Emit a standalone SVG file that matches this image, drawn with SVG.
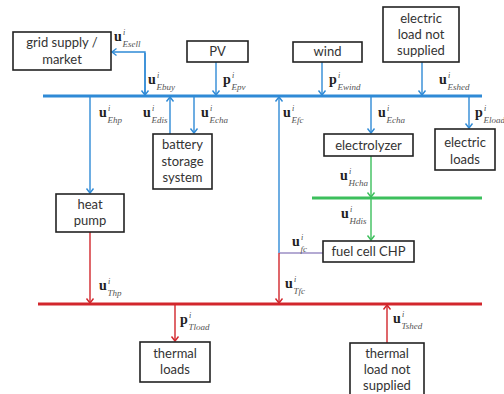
<svg xmlns="http://www.w3.org/2000/svg" width="504" height="394" viewBox="0 0 504 394">
<style>
.box rect{fill:#fff;stroke:#222;stroke-width:1.6}
.box text{font-family:Lato,"Liberation Sans",sans-serif;font-size:13px;fill:#333;text-anchor:middle}
.bus{fill:none;stroke-width:2.8}
.c{fill:none;stroke-width:1.4}
.b{stroke:#2f8ad6}
.r{stroke:#d2262c}
.g{stroke:#3cbf5c}
.p{stroke:#9b8ec4}
.v{font-family:"Liberation Serif",serif;font-weight:bold;font-size:14px;fill:#222}
.sup{font-family:"Liberation Serif",serif;font-style:italic;font-size:8px;fill:#444}
.sub{font-family:"Liberation Serif",serif;font-style:italic;font-size:9px;fill:#555}
</style>
<defs>
<marker id="ab" markerUnits="userSpaceOnUse" markerWidth="10" markerHeight="10" refX="0" refY="0" viewBox="-6 -5 8 10" orient="auto" overflow="visible"><path d="M-4.5,-3.5 L0,0 L-4.5,3.5" fill="none" stroke="#2f8ad6" stroke-width="1.4"/></marker>
<marker id="ar" markerUnits="userSpaceOnUse" markerWidth="10" markerHeight="10" refX="0" refY="0" viewBox="-6 -5 8 10" orient="auto" overflow="visible"><path d="M-4.5,-3.5 L0,0 L-4.5,3.5" fill="none" stroke="#d2262c" stroke-width="1.4"/></marker>
<marker id="ag" markerUnits="userSpaceOnUse" markerWidth="10" markerHeight="10" refX="0" refY="0" viewBox="-6 -5 8 10" orient="auto" overflow="visible"><path d="M-4.5,-3.5 L0,0 L-4.5,3.5" fill="none" stroke="#3cbf5c" stroke-width="1.4"/></marker>
</defs>

<g id="connectors">
<path class="bus b" d="M43,96 H482"/>
<path class="bus r" d="M38,304 H482"/>
<path class="bus g" d="M312,198 H482"/>
<path class="c b" d="M145,95 V52 H112" marker-end="url(#ab)"/>
<path class="c b" d="M145,53 V95" marker-end="url(#ab)"/>
<path class="c b" d="M216,62 V95" marker-end="url(#ab)"/>
<path class="c b" d="M322,62 V95" marker-end="url(#ab)"/>
<path class="c b" d="M422,62 V95" marker-end="url(#ab)"/>
<path class="c b" d="M90,97 V193" marker-end="url(#ab)"/>
<path class="c b" d="M170,134 V97" marker-end="url(#ab)"/>
<path class="c b" d="M194,97 V133" marker-end="url(#ab)"/>
<path class="c b" d="M279,253 V97" marker-end="url(#ab)"/>
<path class="c b" d="M371,97 V133" marker-end="url(#ab)"/>
<path class="c b" d="M469,97 V128" marker-end="url(#ab)"/>
<path class="c g" d="M371,156 V197" marker-end="url(#ag)"/>
<path class="c g" d="M371,199 V240" marker-end="url(#ag)"/>
<path class="c p" d="M279,253 H323"/>
<path class="c r" d="M90,232 V303" marker-end="url(#ar)"/>
<path class="c r" d="M279,253 V303" marker-end="url(#ar)"/>
<path class="c r" d="M175,305 V341" marker-end="url(#ar)"/>
<path class="c r" d="M387,343 V305" marker-end="url(#ar)"/>
</g>

<g id="labels">
<g transform="translate(114,41)"><text class="v">u</text><text class="sup" x="9" y="-6">i</text><text class="sub" x="8.5" y="5.5">Esell</text></g>
<g transform="translate(148,84)"><text class="v">u</text><text class="sup" x="9" y="-6">i</text><text class="sub" x="8.5" y="5.5">Ebuy</text></g>
<g transform="translate(223,84)"><text class="v">p</text><text class="sup" x="9" y="-6">i</text><text class="sub" x="8.5" y="5.5">Epv</text></g>
<g transform="translate(329,84)"><text class="v">p</text><text class="sup" x="9" y="-6">i</text><text class="sub" x="8.5" y="5.5">Ewind</text></g>
<g transform="translate(439,84)"><text class="v">u</text><text class="sup" x="9" y="-6">i</text><text class="sub" x="8.5" y="5.5">Eshed</text></g>
<g transform="translate(99,117)"><text class="v">u</text><text class="sup" x="9" y="-6">i</text><text class="sub" x="8.5" y="5.5">Ehp</text></g>
<g transform="translate(143,117)"><text class="v">u</text><text class="sup" x="9" y="-6">i</text><text class="sub" x="8.5" y="5.5">Edis</text></g>
<g transform="translate(201,117)"><text class="v">u</text><text class="sup" x="9" y="-6">i</text><text class="sub" x="8.5" y="5.5">Echa</text></g>
<g transform="translate(283,117)"><text class="v">u</text><text class="sup" x="9" y="-6">i</text><text class="sub" x="8.5" y="5.5">Efc</text></g>
<g transform="translate(378,117)"><text class="v">u</text><text class="sup" x="9" y="-6">i</text><text class="sub" x="8.5" y="5.5">Echa</text></g>
<g transform="translate(475,117)"><text class="v">p</text><text class="sup" x="9" y="-6">i</text><text class="sub" x="8.5" y="5.5">Eload</text></g>
<g transform="translate(340,180)"><text class="v">u</text><text class="sup" x="9" y="-6">i</text><text class="sub" x="8.5" y="5.5">Hcha</text></g>
<g transform="translate(341,218)"><text class="v">u</text><text class="sup" x="9" y="-6">i</text><text class="sub" x="8.5" y="5.5">Hdis</text></g>
<g transform="translate(292,246)"><text class="v">u</text><text class="sup" x="9" y="-6">i</text><text class="sub" x="8.5" y="5.5">fc</text></g>
<g transform="translate(285,288)"><text class="v">u</text><text class="sup" x="9" y="-6">i</text><text class="sub" x="8.5" y="5.5">Tfc</text></g>
<g transform="translate(99,290)"><text class="v">u</text><text class="sup" x="9" y="-6">i</text><text class="sub" x="8.5" y="5.5">Thp</text></g>
<g transform="translate(180,324)"><text class="v">p</text><text class="sup" x="9" y="-6">i</text><text class="sub" x="8.5" y="5.5">Tload</text></g>
<g transform="translate(393,323)"><text class="v">u</text><text class="sup" x="9" y="-6">i</text><text class="sub" x="8.5" y="5.5">Tshed</text></g>
</g>

<g id="grid" class="box"><rect x="13" y="32" width="98" height="38"/><text x="62" y="47">grid supply /</text><text x="62" y="64">market</text></g>
<g id="pv" class="box"><rect x="187" y="41" width="61" height="21"/><text x="217.5" y="56">PV</text></g>
<g id="wind" class="box"><rect x="293" y="42" width="69" height="20"/><text x="327.5" y="56">wind</text></g>
<g id="eshed" class="box"><rect x="383" y="7" width="76" height="55"/><text x="421" y="23">electric</text><text x="421" y="39">load not</text><text x="421" y="55">supplied</text></g>
<g id="battery" class="box"><rect x="153" y="134" width="59" height="55"/><text x="182.5" y="149">battery</text><text x="182.5" y="165.5">storage</text><text x="182.5" y="182">system</text></g>
<g id="heatpump" class="box"><rect x="56" y="194" width="68" height="38"/><text x="90" y="209">heat</text><text x="90" y="225">pump</text></g>
<g id="electrolyzer" class="box"><rect x="324" y="134" width="89" height="22"/><text x="368.5" y="149.5">electrolyzer</text></g>
<g id="eloads" class="box"><rect x="435" y="129" width="60" height="41"/><text x="465" y="147">electric</text><text x="465" y="164">loads</text></g>
<g id="fuelcell" class="box"><rect x="323" y="241" width="91" height="21"/><text x="368.5" y="256">fuel cell CHP</text></g>
<g id="tloads" class="box"><rect x="140" y="342" width="70" height="40"/><text x="175" y="358">thermal</text><text x="175" y="374">loads</text></g>
<g id="tshed" class="box"><rect x="350" y="343" width="74" height="60"/><text x="387" y="358">thermal</text><text x="387" y="374">load not</text><text x="387" y="390">supplied</text></g>
</svg>
